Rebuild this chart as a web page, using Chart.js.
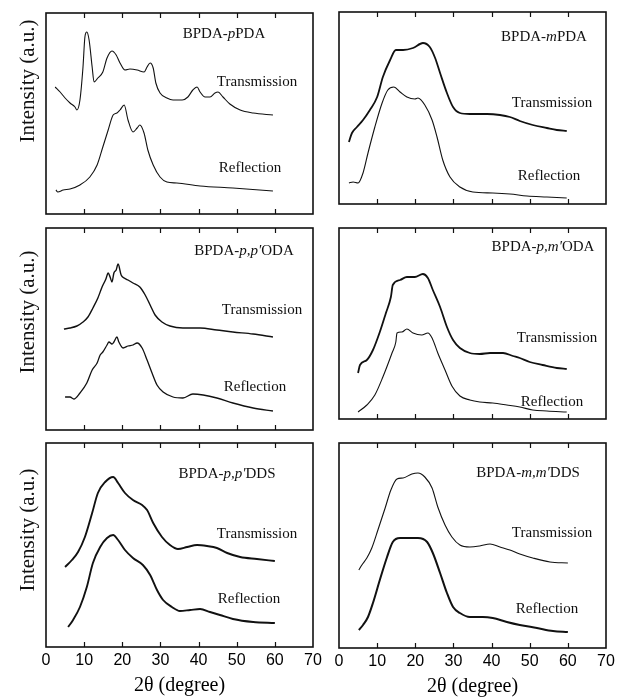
<!DOCTYPE html>
<html>
<head>
<meta charset="utf-8">
<script src="https://cdn.jsdelivr.net/npm/chart.js@4"></script>
<style>
  body { margin: 0; background: #fff; width: 617px; height: 698px; position: relative; overflow: hidden;
         font-family: "Liberation Serif", "Times New Roman", serif; color: #111; }
  canvas { position: absolute; }
  .lbl { position: absolute; transform: translate(-50%, -50%); white-space: nowrap; font-size: 15px; }
  .ytitle { position: absolute; transform: translate(-50%, -50%) rotate(-90deg); white-space: nowrap; font-size: 21px; }
</style>
</head>
<body>
<script>
// 2θ (degree), intensity (a.u.) pairs
const pPDA_trans = [[2.4,127],[3.7,122],[5.0,116],[6.3,111],[7.6,107],[8.1,104],[8.9,114],[9.7,147],[10.2,177],[10.7,182],[11.3,174],[12.1,147],[12.6,132],[13.6,136],[14.9,142],[16.0,156],[17.3,163],[18.4,159],[19.4,151],[20.7,144],[22.0,145],[23.9,144],[25.7,142],[26.5,147],[27.3,151],[28.1,146],[28.8,131],[29.9,121],[31.7,116],[33.3,114],[35.7,114],[37.2,117],[38.5,124],[39.6,127],[40.4,122],[41.7,117],[43.0,117],[44.3,121],[45.1,122],[46.4,117],[48.2,110],[50.9,104],[54.3,101],[59.5,99]];
const pPDA_refl = [[2.6,24],[3.1,22],[4.5,24],[6.3,25],[8.9,29],[11.5,37],[13.4,49],[14.9,67],[16.3,84],[17.6,99],[18.6,101],[19.4,104],[20.5,109],[21.5,94],[22.8,82],[23.9,86],[24.6,89],[25.7,81],[26.7,64],[28.1,49],[29.9,37],[31.7,32],[34.3,31],[40.4,28],[49.0,26],[59.5,23]];

const mPDA_trans = [[2.6,62],[3.4,71],[4.7,77],[6.3,84],[8.1,94],[10.0,107],[11.5,127],[13.4,144],[14.9,154],[16.8,154],[19.4,156],[22.0,161],[23.8,157],[25.2,146],[26.5,131],[28.3,111],[29.9,97],[31.7,91],[34.3,90],[38.8,90],[42.2,89],[44.8,87],[47.4,83],[50.8,79],[54.5,76],[57.1,74],[59.7,73]];
const mPDA_refl = [[2.6,21],[3.7,22],[5.0,21],[6.3,31],[7.6,51],[9.4,77],[11.3,101],[12.8,114],[14.4,117],[16.0,112],[17.8,107],[19.9,105],[20.7,106],[22.5,99],[24.4,84],[25.7,67],[27.2,44],[29.1,27],[31.7,17],[35.1,12],[40.3,11],[44.8,10],[49.3,8],[54.5,7],[59.7,6]];

const ppODA_trans = [[4.7,101],[6.3,102],[8.1,104],[9.7,108],[11.0,113],[12.3,122],[13.6,132],[14.7,143],[15.2,147],[15.7,151],[16.3,157],[16.8,153],[17.3,148],[17.8,157],[18.4,160],[18.9,166],[19.7,155],[20.5,152],[21.5,150],[22.8,147],[24.6,143],[26.0,135],[27.3,125],[28.6,115],[30.4,108],[32.5,104],[35.9,102],[40.4,102],[44.8,100],[49.0,98],[54.3,96],[59.5,93]];
const ppODA_refl = [[5.0,33],[6.3,33],[7.3,31],[8.9,37],[10.7,47],[12.1,60],[13.4,67],[14.2,75],[14.9,78],[16.0,85],[16.5,88],[17.3,86],[17.8,88],[18.6,93],[19.1,88],[20.2,82],[21.5,84],[22.8,85],[23.9,87],[25.2,82],[26.5,70],[27.8,57],[29.1,45],[30.7,38],[33.3,33],[35.9,32],[38.5,36],[41.2,35],[44.8,32],[49.0,27],[54.3,22],[59.5,19]];

const pmODA_trans = [[5.0,46],[5.5,54],[7.3,59],[8.9,69],[10.7,87],[12.3,106],[13.6,122],[14.1,134],[16.0,139],[17.8,142],[19.9,142],[22.0,145],[23.3,141],[24.6,129],[26.5,112],[28.3,92],[29.9,79],[31.7,71],[34.3,66],[36.9,65],[39.6,66],[43.0,66],[45.6,63],[47.4,61],[50.0,57],[53.4,54],[57.1,51],[59.7,50]];
const pmODA_refl = [[5.0,7],[7.3,14],[9.4,24],[11.5,42],[13.9,66],[14.9,77],[15.2,86],[16.5,87],[17.8,90],[19.4,86],[21.7,84],[23.3,86],[24.4,81],[25.9,66],[27.8,49],[29.6,33],[31.7,23],[34.3,19],[36.9,17],[40.3,16],[44.0,14],[47.4,12],[50.8,9],[54.5,8],[59.7,7]];

const ppDDS_trans = [[5.0,80],[6.8,87],[8.4,95],[10.2,110],[12.1,134],[13.6,154],[15.5,165],[17.6,170],[18.9,164],[20.7,154],[22.8,147],[25.2,142],[26.5,137],[28.1,124],[30.4,110],[32.5,102],[34.6,98],[37.0,100],[39.6,102],[42.2,101],[44.8,99],[47.5,94],[50.9,90],[55.3,88],[60.0,86]];
const ppDDS_refl = [[5.8,20],[7.1,27],[8.9,40],[10.7,60],[12.3,84],[14.2,100],[16.0,109],[17.6,112],[18.9,107],[20.7,97],[22.8,89],[25.4,82],[27.3,72],[29.1,57],[30.7,47],[33.0,40],[35.1,36],[37.8,37],[40.4,38],[43.0,35],[45.6,32],[49.0,28],[54.3,25],[60.0,24]];

const mmDDS_trans = [[5.2,78],[6.0,83],[7.3,90],[8.6,100],[10.2,118],[12.1,140],[13.6,158],[15.2,169],[16.8,170],[19.1,174],[20.7,175],[22.5,171],[24.4,160],[25.9,141],[27.8,123],[29.6,111],[31.7,103],[34.3,101],[36.9,102],[39.6,104],[42.2,101],[44.8,98],[47.4,94],[50.8,90],[55.3,86],[60.0,85]];
const mmDDS_refl = [[5.2,18],[6.3,23],[7.6,31],[8.9,45],[10.7,68],[12.6,91],[14.1,106],[16.0,110],[18.6,110],[20.7,110],[23.1,106],[24.6,95],[26.5,75],[28.3,55],[29.9,41],[31.7,35],[34.3,31],[37.7,31],[40.3,30],[44.0,26],[47.4,23],[51.9,20],[56.1,17],[60.0,16]];

const sampleNames = ['BPDA-<i>p</i>PDA', 'BPDA-<i>m</i>PDA', "BPDA-<i>p,p'</i>ODA", "BPDA-<i>p,m'</i>ODA", "BPDA-<i>p,p'</i>DDS", "BPDA-<i>m,m'</i>DDS"];
const curves = [[pPDA_trans, pPDA_refl], [mPDA_trans, mPDA_refl], [ppODA_trans, ppODA_refl],
                [pmODA_trans, pmODA_refl], [ppDDS_trans, ppDDS_refl], [mmDDS_trans, mmDDS_refl]];
const intensityMax = [201, 192, 202, 191, 204, 205];
const xTicks = [0, 10, 20, 30, 40, 50, 60, 70];

// noisy scans print heavier, so give them a thicker stroke
const lineWidths = [[1.1, 1.1], [1.8, 1.1], [1.4, 1.3], [1.8, 1.1], [1.9, 1.9], [1.1, 2.0]];

// panel boxes on the page and where the text sits
const panels = [
  { l: 46,  t: 13,  w: 267, h: 201, name: [224, 33],  tr: [257, 81],  re: [250, 167] },
  { l: 339, t: 12,  w: 267, h: 192, name: [544, 36],  tr: [552, 102], re: [549, 175] },
  { l: 46,  t: 228, w: 267, h: 202, name: [244, 250], tr: [262, 309], re: [255, 386] },
  { l: 339, t: 228, w: 267, h: 191, name: [543, 246], tr: [557, 337], re: [552, 401] },
  { l: 46,  t: 443, w: 267, h: 204, name: [227, 473], tr: [257, 533], re: [249, 598], bottom: true },
  { l: 339, t: 443, w: 267, h: 205, name: [528, 472], tr: [552, 532], re: [547, 608], bottom: true }
];
const yTitles = [81, 312, 530];

const framePlugin = {
  id: 'frame',
  afterDraw(chart) {
    const { ctx, chartArea: a, scales: { x } } = chart;
    ctx.save();
    ctx.strokeStyle = '#111';
    ctx.lineWidth = 1.6;
    ctx.strokeRect(a.left, a.top, a.right - a.left, a.bottom - a.top);
    ctx.lineWidth = 1.2;
    ctx.beginPath();
    xTicks.slice(1, -1).forEach(v => {
      const px = Math.round(x.getPixelForValue(v)) + 0.5;
      ctx.moveTo(px, a.top); ctx.lineTo(px, a.top + 5);
      ctx.moveTo(px, a.bottom); ctx.lineTo(px, a.bottom - 5);
    });
    ctx.stroke();
    ctx.restore();
  }
};

const M = 14, AXIS_H = 51;

panels.forEach((p, i) => {
  const cv = document.createElement('canvas');
  const w = p.w + 2 * M;
  const h = p.h + 8 + (p.bottom ? AXIS_H - 4 : 0);
  cv.width = w;
  cv.height = h;
  cv.style.width = w + 'px';
  cv.style.height = h + 'px';
  cv.style.left = (p.l - M) + 'px';
  cv.style.top = (p.t - 4) + 'px';
  document.body.appendChild(cv);

  new Chart(cv, {
    type: 'line',
    data: {
      datasets: curves[i].map((c, k) => ({
        data: c.map(([x, y]) => ({ x, y })),
        borderColor: '#111',
        borderWidth: lineWidths[i][k],
        pointRadius: 0,
        cubicInterpolationMode: 'monotone',
        fill: false
      }))
    },
    options: {
      responsive: false,
      maintainAspectRatio: false,
      animation: false,
      devicePixelRatio: 1,
      layout: { padding: { left: M, right: M, top: 4, bottom: p.bottom ? 0 : 4 } },
      plugins: { legend: { display: false }, tooltip: { enabled: false } },
      scales: {
        x: {
          type: 'linear', min: 0, max: 70,
          display: !!p.bottom,
          afterBuildTicks: s => { s.ticks = xTicks.map(v => ({ value: v })); },
          afterFit: s => { if (p.bottom) s.height = AXIS_H; },
          grid: { display: false, drawTicks: false },
          border: { display: false },
          ticks: { color: '#000', padding: 4, font: { family: 'Liberation Sans', size: 16 } },
          title: { display: true, text: '2θ (degree)', color: '#000', padding: 0,
                   font: { family: 'Liberation Serif', size: 20 } }
        },
        y: { display: false, min: 0, max: intensityMax[i] }
      }
    },
    plugins: [framePlugin]
  });

  [[p.name, sampleNames[i]], [p.tr, 'Transmission'], [p.re, 'Reflection']].forEach(([pos, txt]) => {
    const d = document.createElement('div');
    d.className = 'lbl';
    d.style.left = pos[0] + 'px';
    d.style.top = pos[1] + 'px';
    d.innerHTML = txt;
    document.body.appendChild(d);
  });
});

yTitles.forEach(y => {
  const d = document.createElement('div');
  d.className = 'ytitle';
  d.style.left = '27px';
  d.style.top = y + 'px';
  d.textContent = 'Intensity (a.u.)';
  document.body.appendChild(d);
});
</script>
</body>
</html>
